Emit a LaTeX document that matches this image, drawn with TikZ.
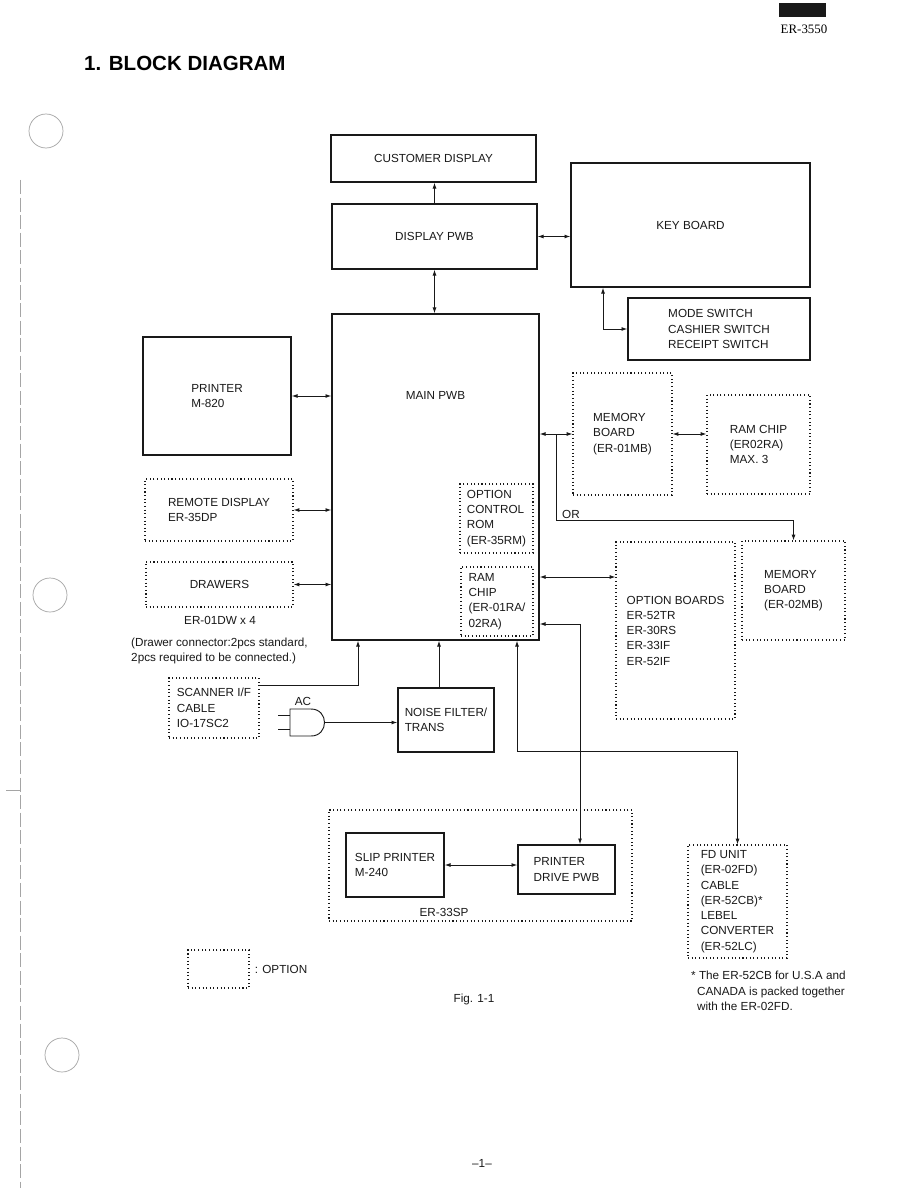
\documentclass[tikz,border=0pt]{standalone}
\usepackage{fontspec}
\setmainfont{Liberation Sans}
\newfontfamily\modelfont{Liberation Serif}
\usetikzlibrary{arrows.meta,positioning,calc}
\definecolor{inkblack}{RGB}{25,25,25}
\definecolor{scangray}{RGB}{165,165,165}
\tikzset{
  sz/.style 2 args={minimum width=#1*0.03cm, minimum height=#2*0.03cm},
  block/.style={rectangle, draw=inkblack, line width=1.1pt, inner sep=0pt,
                align=left, text=inkblack, font=\fontsize{10}{13}\selectfont},
  optblock/.style={block, line width=0.9pt, dash pattern=on 0.9pt off 2.2pt},
  txt/.style={inner sep=0pt, align=left, text=inkblack, font=\fontsize{10}{13}\selectfont},
  arrow/.style={-{Latex[length=5pt,width=3.4pt]}, line width=0.8pt, inkblack},
  dblarrow/.style={{Latex[length=5pt,width=3.4pt]}-{Latex[length=5pt,width=3.4pt]}, line width=0.8pt, inkblack},
  wire/.style={line width=0.8pt, inkblack},
}
\begin{document}
\begin{tikzpicture}[x=0.03cm, y=-0.03cm]
\fill[white] (0,0) rectangle (918,1188);
\useasboundingbox (0,0) rectangle (918,1188);
% scanned page marks
\draw[scangray, line width=0.6pt] (46,131) circle[radius=17] (50,595) circle[radius=17] (62,1055) circle[radius=17];
\draw[scangray, line width=0.6pt, dash pattern=on 12pt off 3pt] (20,180) -- (20,1188);
\draw[scangray, line width=0.8pt] (6,790) -- (20,790);
% header
\fill[inkblack] (779,3) rectangle (826,17);
\node[inner sep=0pt, font=\modelfont\fontsize{11}{12}\selectfont] (model) at (804,29) {ER-3550};
\node[anchor=base west, inner sep=0pt, font=\fontsize{17.5}{20}\selectfont\bfseries] (title) at (84,71) {1. BLOCK DIAGRAM};
% blocks
\node[block, sz={205}{47}] (cust) at (433.5,158.5) {CUSTOMER DISPLAY};
\node[block, sz={205}{65}] (dpwb) at (434.5,236.5) {DISPLAY PWB};
\node[block, sz={239}{124}] (kbd) at (690.5,225) {KEY BOARD};
\node[block, sz={182}{62}] (mode) at (719,329) {MODE SWITCH\\CASHIER SWITCH\\RECEIPT SWITCH};
\node[block, sz={207}{326}] (main) at (435.5,477) {};
\node[txt] (mainlbl) at (435.5,395) {MAIN PWB};
\node[block, sz={148}{118}] (prt) at (217,396) {PRINTER\\M-820};
\node[optblock, sz={148}{62}] (rdsp) at (219,510) {REMOTE DISPLAY\\ER-35DP};
\node[optblock, sz={147}{45}] (drw) at (219.5,584.5) {DRAWERS};
\node[txt] (drwqty) at (220,620) {ER-01DW x 4};
\node[txt, anchor=west] (drwnote) at (131,651) {(Drawer connector:2pcs standard,\\2pcs required to be connected.)};
\node[optblock, sz={73}{69}] (rom) at (496.5,518.5) {OPTION\\CONTROL\\ROM\\(ER-35RM)};
\node[optblock, sz={72}{69}] (ramc) at (497,601.5) {RAM\\CHIP\\(ER-01RA/\\02RA)};
\node[optblock, sz={99}{122}] (mb1) at (622.5,434) {MEMORY\\BOARD\\(ER-01MB)};
\node[optblock, sz={103}{99}] (ramx) at (758.5,444.5) {RAM CHIP\\(ER02RA)\\MAX. 3};
\node[optblock, sz={103}{99}] (mb2) at (793.5,590.5) {MEMORY\\BOARD\\(ER-02MB)};
\node[optblock, sz={119}{177}] (optb) at (675.5,630.5) {OPTION BOARDS\\ER-52TR\\ER-30RS\\ER-33IF\\ER-52IF};
\node[optblock, sz={90}{60}] (scan) at (214,708) {SCANNER I/F\\CABLE\\IO-17SC2};
\node[block, sz={96}{64}] (nf) at (446,720) {NOISE FILTER/\\TRANS};
\node[optblock, sz={303}{111}] (sp33) at (480.5,865.5) {};
\node[txt] (sp33lbl) at (444,912) {ER-33SP};
\node[block, sz={98}{64}] (slip) at (395,865) {SLIP PRINTER\\M-240};
\node[block, sz={97}{49}] (pdrv) at (566.5,869.5) {PRINTER\\DRIVE PWB};
\node[optblock, sz={99}{113}] (fd) at (737.5,901.5) {FD UNIT\\(ER-02FD)\\CABLE\\(ER-52CB)*\\LEBEL\\CONVERTER\\(ER-52LC)};
\node[txt, anchor=west] (fdnote) at (691,991) {* The ER-52CB for U.S.A and\\\hspace*{5pt}CANADA is packed together\\\hspace*{5pt}with the ER-02FD.};
% legend and captions
\node[optblock, sz={61}{38}] (lgd) at (218.5,969) {};
\node[txt, right=0.15cm of lgd] (lgdlbl) {: OPTION};
\node[txt] (fig) at (474,999) {Fig. 1-1};
\node[txt] (pgno) at (482,1163) {--1--};
% AC plug
\draw[wire] (290,709) -- (290,736) -- (311,736) .. controls (329,736) and (329,709) .. (311,709) -- cycle;
\draw[wire] (278,715) -- (290,715) (278,729) -- (290,729);
\coordinate (plugtip) at (324.5,722.5);
\node[txt] (aclbl) at (303,701) {AC};
% connectors
\draw[arrow] (dpwb.north) -- (dpwb.north |- cust.south);
\draw[dblarrow] (dpwb.south) -- (dpwb.south |- main.north);
\draw[dblarrow] (dpwb.east) -- (dpwb.east -| kbd.west);
\draw[dblarrow] (kbd.south -| 603,0) |- (mode.west);
\draw[dblarrow] (prt.east) -- (prt.east -| main.west);
\draw[dblarrow] (rdsp.east) -- (rdsp.east -| main.west);
\draw[dblarrow] (drw.east) -- (drw.east -| main.west);
\draw[dblarrow] (mb1.west -| main.east) -- (mb1.west);
\draw[dblarrow] (mb1.east) -- (mb1.east -| ramx.west);
\coordinate (orsplit) at (556,434);
\coordinate (orbend) at (mb2.north |- 0,520);
\draw[arrow] (orsplit) |- (orbend) -- (mb2.north);
\node[txt, anchor=south west] (orlbl) at (562,518.5) {OR};
\draw[dblarrow] (main.east |- 0,577) -- (optb.west |- 0,577);
\draw[dblarrow] (main.east |- 0,624) -| (pdrv.north -| 580,0);
\draw[dblarrow] (main.south -| 517,0) |- (fd.north |- 0,751) -- (fd.north);
\draw[arrow] (scan.east |- 0,685) -| (main.south -| 358,0);
\draw[arrow] (nf.north -| 439,0) -- (main.south -| 439,0);
\draw[arrow] (plugtip) -- (plugtip -| nf.west);
\draw[dblarrow] (slip.east) -- (slip.east -| pdrv.west);
\end{tikzpicture}
\end{document}
